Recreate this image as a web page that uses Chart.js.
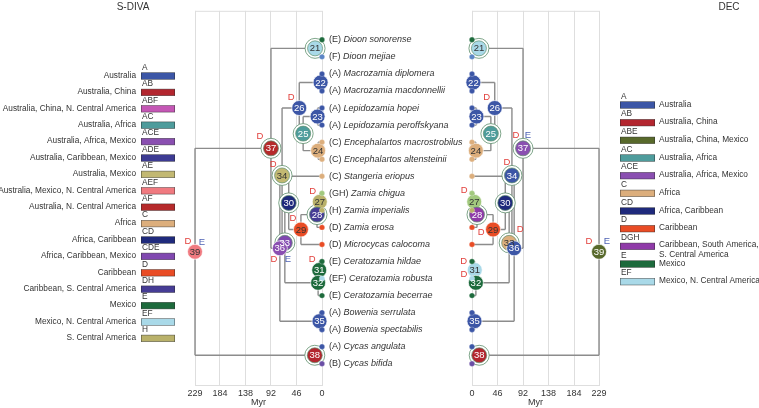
<!DOCTYPE html>
<html><head><meta charset="utf-8">
<script src="https://cdn.jsdelivr.net/npm/chart.js@4/dist/chart.umd.min.js"></script>
<style>
html,body{margin:0;padding:0;background:#fff;}
#wrap{position:relative;width:759px;height:408px;overflow:hidden;}
canvas{position:absolute;left:0;top:0;}
</style></head><body>
<div id="wrap"><canvas id="cL" width="759" height="408"></canvas><canvas id="cR" width="759" height="408"></canvas></div>
<script>
// ---------- DATA ----------
const tipCodes = ['E','F','A','A','A','A','C','C','C','GH','H','D','D','E','EF','E','A','A','A','B'];
const tipNames = ['Dioon sonorense','Dioon mejiae','Macrozamia diplomera','Macrozamia macdonnellii','Lepidozamia hopei','Lepidozamia peroffskyana','Encephalartos macrostrobilus','Encephalartos altensteinii','Stangeria eriopus','Zamia chigua','Zamia imperialis','Zamia erosa','Microcycas calocoma','Ceratozamia hildae','Ceratozamia robusta','Ceratozamia becerrae','Bowenia serrulata','Bowenia spectabilis','Cycas angulata','Cycas bifida'];
const nodeIds = [21,22,23,24,25,26,27,28,29,30,31,32,33,34,35,36,37,38,39];
const nodeChildren = [[1,2],[3,4],[5,6],[7,8],[23,24],[22,25],[10,11],[27,12],[28,13],[9,29],[14,15],[31,16],[30,32],[26,33],[17,18],[34,35],[21,36],[19,20],[37,38]];
const nodeAges = [12.5,2.5,8,7,34,41,4,9,38,60,5,7,67,72,4.5,76,92,13,229];
const sdivaStates = ['EF','A','A','C','AC','A','H','DH','D','CD','E','E','CDE','AE','A','ACE','AF','AB','AEF'];
const decStates = ['EF','A','A','C','AC','A','GH','DGH','D','CD','EF','E','C','A','A','A','ACE','AB','ABE'];
const ringSdiva = [21,25,28,30,33,34,37,38];
const ringDec = [21,25,28,30,33,34,37,38];
const eventsSdiva = [[26,'D'],[37,'D'],[34,'D'],[27,'D'],[29,'D'],[36,'D'],[36,'E'],[31,'D'],[39,'D'],[39,'E']];
const eventsDec = [[26,'D'],[37,'D'],[37,'E'],[34,'D'],[27,'D'],[29,'D'],[33,'D'],[31,'D'],[32,'D'],[39,'D'],[39,'E']];
const ageTicks = [0,46,92,138,184,229];
const legendSdivaCodes = ['A','AB','ABF','AC','ACE','ADE','AE','AEF','AF','C','CD','CDE','D','DH','E','EF','H'];
const legendSdivaLabels = ['Australia','Australia, China','Australia, China, N. Central America','Australia, Africa','Australia, Africa, Mexico','Australia, Caribbean, Mexico','Australia, Mexico','Australia, Mexico, N. Central America','Australia, N. Central America','Africa','Africa, Caribbean','Africa, Caribbean, Mexico','Caribbean','Caribbean, S. Central America','Mexico','Mexico, N. Central America','S. Central America'];
const legendDecCodes = ['A','AB','ABE','AC','ACE','C','CD','D','DGH','E','EF'];
const legendDecLabels = ['Australia','Australia, China','Australia, China, Mexico','Australia, Africa','Australia, Africa, Mexico','Africa','Africa, Caribbean','Caribbean','Caribbean, South America,\nS. Central America','Mexico','Mexico, N. Central America'];

// ---------- STYLE ----------
const F = "'Liberation Sans', Arial, Helvetica, sans-serif";
const palette = {A:'#3c56a6',AB:'#b3262f',ABE:'#58692b',ABF:'#c457b5',AC:'#4e9c9c',ACE:'#8a4fb1',ADE:'#3d3b93',AE:'#c2b872',AEF:'#f07a80',AF:'#b62a2b',B:'#6a4ea5',C:'#dcae7c',CD:'#1f2a7c',CDE:'#8048b0',D:'#e94c25',DGH:'#8f3aa8',DH:'#463c95',E:'#1d6a3c',EF:'#a9d9e8',F:'#5c86c6',GH:'#a2c97e',H:'#b9b16a'};
const darkText = ['AE','C','EF','GH','H','AEF','D'];
const ringColor = '#5e8f6c';
const eventColor = {D:'#e2403c', E:'#4e62b4'};
const eventOffsetsSdiva = {'26D':[-8,-11],'37D':[-11,-12],'34D':[-9,-11.5],'27D':[-7,-10],'29D':[-8,-11],'36D':[-6,11],'36E':[8,11],'31D':[-7,-11],'39D':[-7,-10],'39E':[7,-9]};
const eventOffsetsDec = {'26D':[-8,-11],'37D':[-7,-13],'37E':[5,-13],'34D':[-5,-13],'27D':[-10,-11],'29D':[-12,2.5],'33D':[11,-13.5],'31D':[-11,-9],'32D':[-12,-8],'39D':[-10,-10],'39E':[8,-10]};

// ---------- TREE HELPERS ----------
const nTips = tipNames.length;
function rowOf(id){ if(id<=nTips) return id; const k=nodeIds.indexOf(id); const c=nodeChildren[k]; return (rowOf(c[0])+rowOf(c[1]))/2; }
function ageOf(id){ return id<=nTips?0:nodeAges[nodeIds.indexOf(id)]; }
function treeSegments(){
  const pts=[];
  nodeIds.forEach((id,k)=>{
    const a=ageOf(id), c=nodeChildren[k];
    pts.push({x:a,y:rowOf(c[0])},{x:a,y:rowOf(c[1])},{x:null,y:null});
    c.forEach(ch=>pts.push({x:ageOf(ch),y:rowOf(ch)},{x:a,y:rowOf(ch)},{x:null,y:null}));
  });
  return pts;
}

function datasets(states, rings){
  return [
    {data:nodeIds.map(id=>({x:ageOf(id),y:rowOf(id)})), order:2, clip:false,
     pointRadius:7.5, backgroundColor:states.map(s=>palette[s]),
     borderColor:nodeIds.map(id=>rings.includes(id)?ringColor:'#ffffff'), borderWidth:0.7},
    {data:tipCodes.map((c,i)=>({x:0,y:i+1})), order:1, clip:false,
     pointRadius:2.7, backgroundColor:tipCodes.map(c=>palette[c]), borderColor:'rgba(255,255,255,0.6)', borderWidth:0.4},
    {data:rings.map(id=>({x:ageOf(id),y:rowOf(id)})), order:3, clip:false,
     pointRadius:10, backgroundColor:'#ffffff', borderColor:ringColor, borderWidth:0.8},
    {data:treeSegments(), order:4, showLine:true, clip:false, pointRadius:0,
     borderColor:'#8c8c8c', borderWidth:1.4, spanGaps:false}
  ];
}

function legendDraw(ctx, codes, labels, side){
  ctx.save();
  ctx.font = '8.3px '+F;
  ctx.textBaseline='middle';
  codes.forEach((c,i)=>{
    let y, bx, bw=34;
    if(side==='L'){ y = 76 + i*16.4; bx = 141; }
    else { y = 105 + i*17.67; bx = 620; bw=35; }
    ctx.fillStyle = palette[c];
    ctx.fillRect(bx, y-3.3, bw, 6.6);
    ctx.strokeStyle='rgba(40,40,40,0.7)'; ctx.lineWidth=0.6;
    ctx.strokeRect(bx+0.3, y-3.3, bw-0.6, 6.6);
    ctx.fillStyle='#333';
    ctx.textAlign='left';
    ctx.fillText(c, bx+1, y-8.5);
    const lines = labels[i].split('\n');
    if(side==='L'){ ctx.textAlign='right'; ctx.fillText(lines[0], 136, y-0.5); }
    else { lines.forEach((t,j)=>ctx.fillText(t, 659, y-0.5-(lines.length>1?1:0)+j*9.5)); }
  });
  ctx.restore();
}

function makePlugin(states, events, offsets, side){
  return {
    id:'tree'+side,
    beforeDatasetsDraw(chart){
      const {ctx, chartArea:a} = chart;
      ctx.save(); ctx.strokeStyle='#dedede'; ctx.lineWidth=1;
      ctx.beginPath(); ctx.moveTo(a.left, a.top+0.5); ctx.lineTo(a.right, a.top+0.5); ctx.stroke();
      ctx.restore();
    },
    afterDatasetsDraw(chart){
      const ctx = chart.ctx, xs = chart.scales.x, ys = chart.scales.y;
      ctx.save();
      ctx.font = '9.5px '+F; ctx.textAlign='center'; ctx.textBaseline='middle';
      nodeIds.forEach((id,k)=>{
        const px=xs.getPixelForValue(ageOf(id)), py=ys.getPixelForValue(rowOf(id));
        ctx.fillStyle = darkText.includes(states[k])?'#333':'#ffffff';
        ctx.fillText(String(id), px, py+0.5);
      });
      ctx.font = '9.5px '+F;
      events.forEach(([id,l])=>{
        const o = offsets[id+l];
        const px=xs.getPixelForValue(ageOf(id)), py=ys.getPixelForValue(rowOf(id));
        ctx.fillStyle = eventColor[l];
        ctx.fillText(l, px+o[0], py+o[1]);
      });
      if(side==='L'){
        tipNames.forEach((n,i)=>{
          const x0 = xs.getPixelForValue(0)+7, y=ys.getPixelForValue(i+1);
          ctx.textAlign='left'; ctx.fillStyle='#333';
          const pre='('+tipCodes[i]+') ';
          ctx.font='9px '+F; ctx.fillText(pre, x0, y);
          const w=ctx.measureText(pre).width;
          ctx.font='italic 9px '+F; ctx.fillText(n, x0+w, y);
        });
        ctx.font='10px '+F; ctx.textAlign='center'; ctx.fillStyle='#333';
        ctx.fillText('S-DIVA', 133, 7);
        legendDraw(ctx, legendSdivaCodes, legendSdivaLabels, 'L');
      } else {
        ctx.font='10px '+F; ctx.textAlign='center'; ctx.fillStyle='#333';
        ctx.fillText('DEC', 729, 7);
        legendDraw(ctx, legendDecCodes, legendDecLabels, 'R');
      }
      ctx.restore();
    }
  };
}

function makeChart(id, states, rings, events, offsets, side){
  const reverse = side==='L';
  return new Chart(document.getElementById(id), {
    type:'scatter',
    data:{datasets:datasets(states, rings)},
    options:{
      responsive:false, animation:false, devicePixelRatio:1, events:[],
      layout:{padding: side==='L'?{left:195,right:437,top:2,bottom:0}:{left:472,right:160,top:2,bottom:0}},
      plugins:{legend:{display:false}, tooltip:{enabled:false}},
      scales:{
        x:{type:'linear', reverse, min:0, max:229,
           afterBuildTicks:s=>{ s.ticks = ageTicks.map(v=>({value:v})); },
           afterFit:s=>{ s.height = 23; },
           grid:{color:'#dedede', drawTicks:false, lineWidth:1},
           border:{display:true, color:'#dedede'},
           ticks:{font:{size:9,family:F}, color:'#333', padding:3, maxRotation:0, autoSkip:false, callback:v=>String(v)},
           title:{display:true, text:'Myr', font:{size:9,family:F}, color:'#333', padding:0}
        },
        y:{type:'linear', reverse:true, min:-0.702, max:21.243, display:false}
      }
    },
    plugins:[makePlugin(states, events, offsets, side)]
  });
}

makeChart('cL', sdivaStates, ringSdiva, eventsSdiva, eventOffsetsSdiva, 'L');
makeChart('cR', decStates, ringDec, eventsDec, eventOffsetsDec, 'R');
</script>
</body></html>
